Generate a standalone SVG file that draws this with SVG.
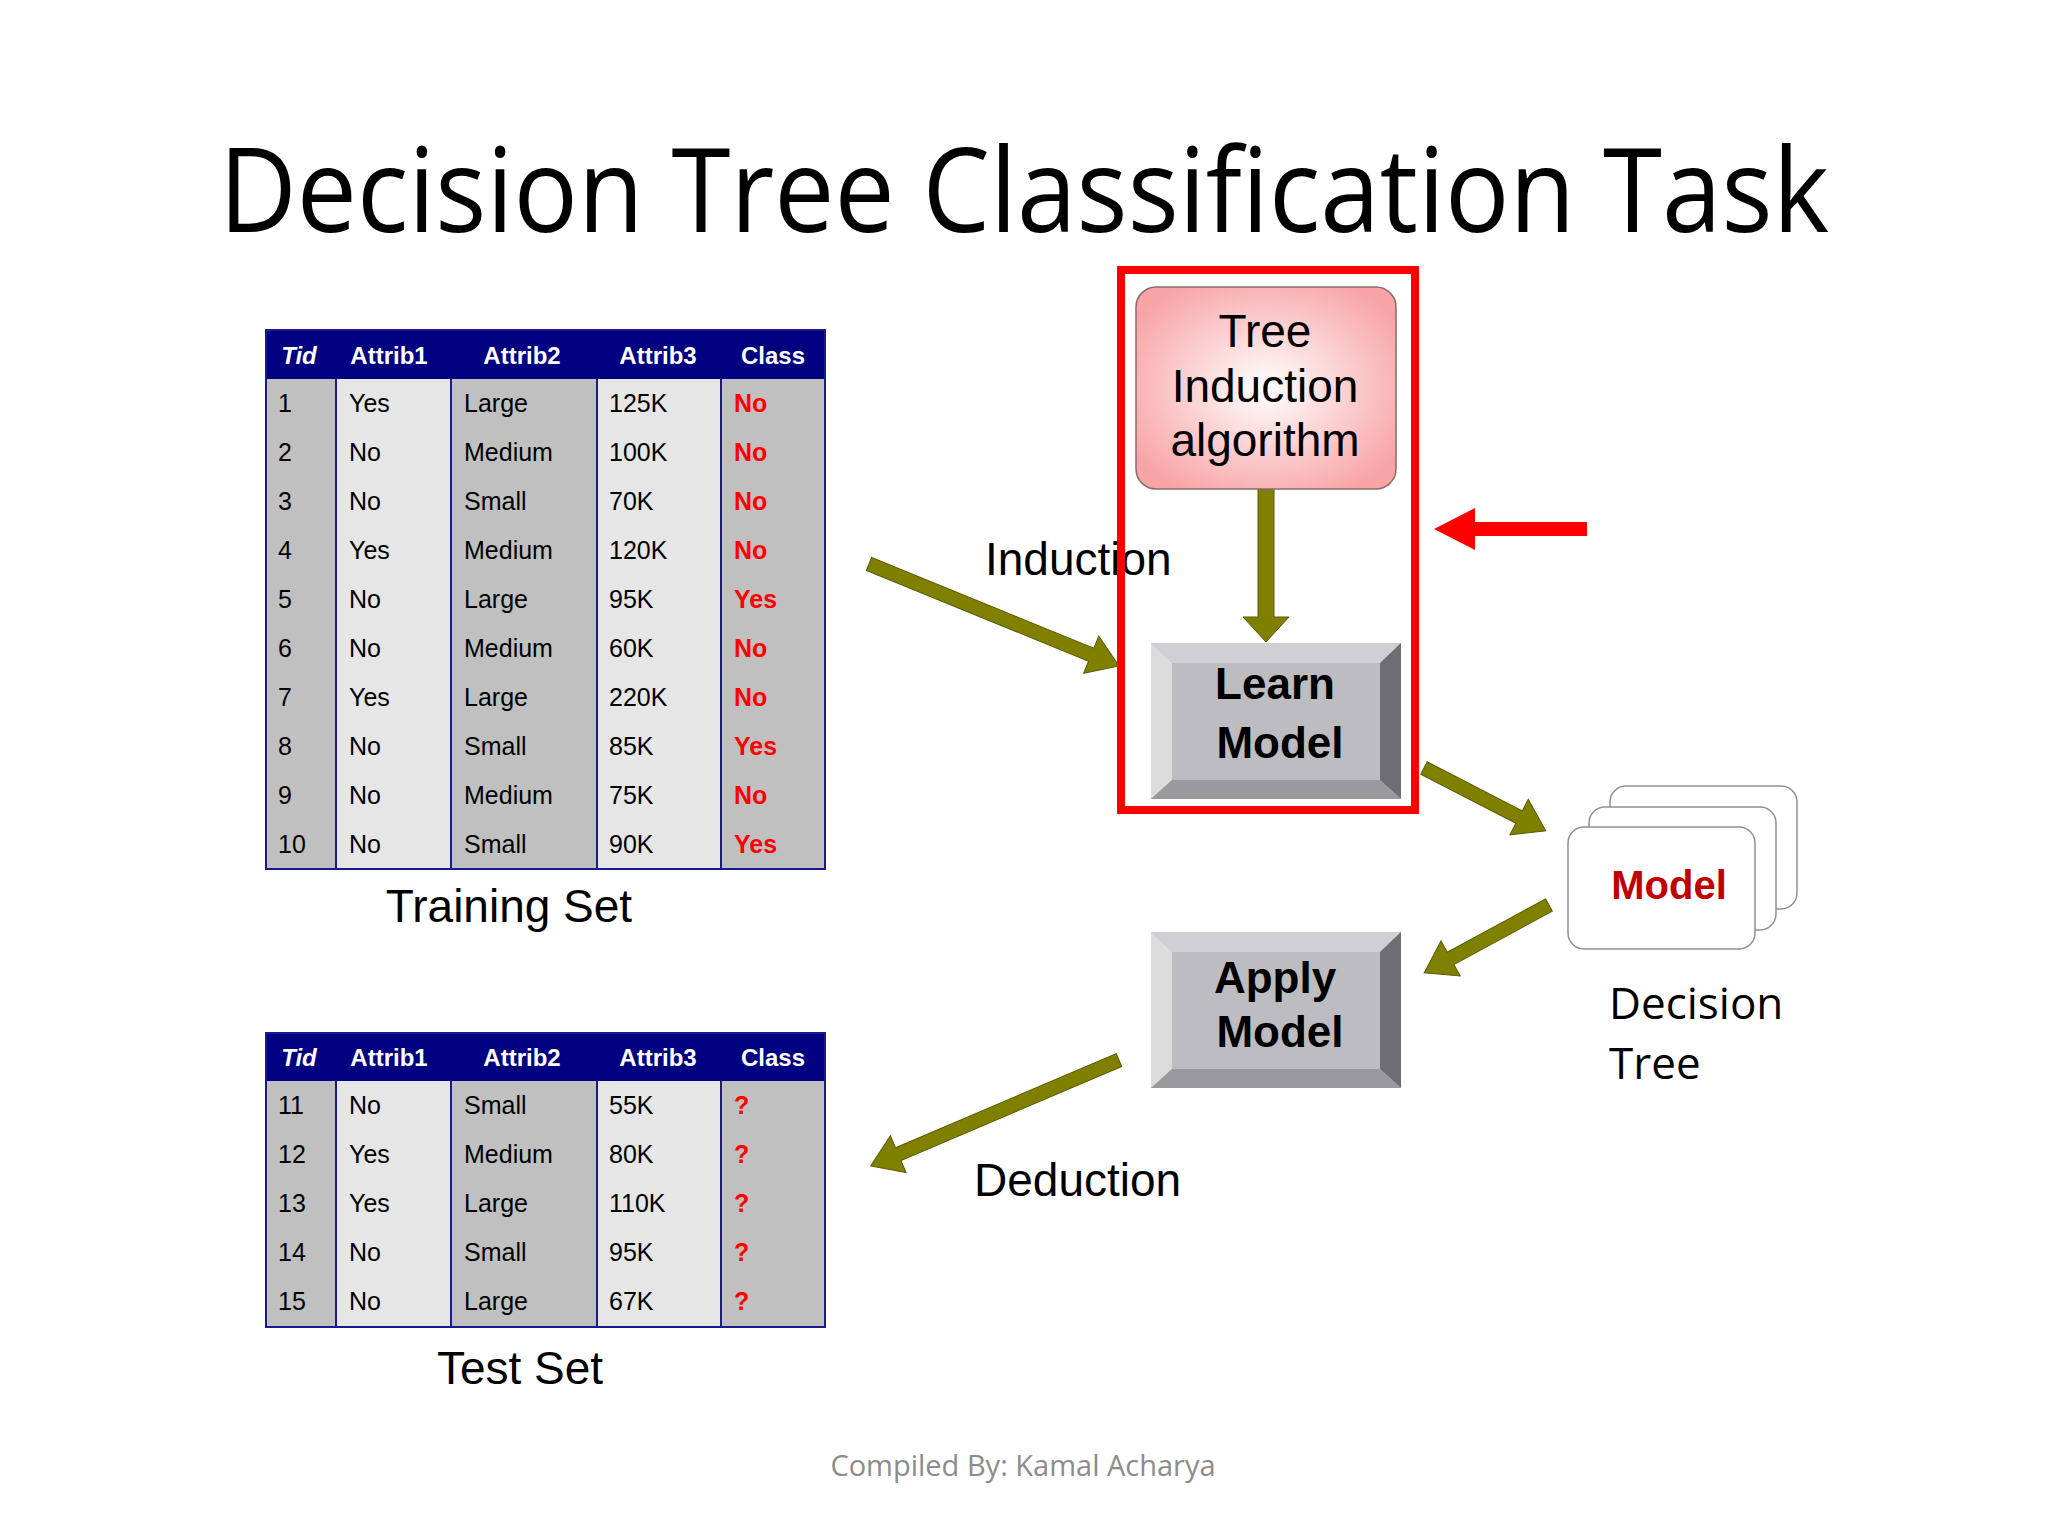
<svg xmlns="http://www.w3.org/2000/svg" width="2048" height="1536" viewBox="0 0 2048 1536">
<defs>
<radialGradient id="pink" cx="0.5" cy="0.5" r="0.6"><stop offset="0" stop-color="#ffffff"/><stop offset="1" stop-color="#f8a4a6"/></radialGradient>
<style>
.t{font-family:"Liberation Sans",Arial,sans-serif;font-size:25px;fill:#000}
.h{font-family:"Liberation Sans",Arial,sans-serif;font-size:24px;font-weight:bold;fill:#fff;text-anchor:middle}
.c{font-family:"Liberation Sans",Arial,sans-serif;font-size:25px;font-weight:bold;fill:#ff0000}
.g{fill:#c0c0c0}.l{fill:#e6e6e6}
.sep{stroke:#1a1a8c;stroke-width:2}
.arr{fill:#808000;stroke:#5a5a00;stroke-width:1}
.btn{font-family:"Liberation Sans",Arial,sans-serif;font-size:44px;font-weight:bold;fill:#000;text-anchor:middle}
.lab{font-family:"Liberation Sans",Arial,sans-serif;font-size:46px;fill:#000}
.cal{font-family:"Open Sans",sans-serif;fill:#000}
</style>
</defs>
<rect width="2048" height="1536" fill="#fff"/>
<text class="cal" x="219" y="232" font-size="118" textLength="1610" lengthAdjust="spacingAndGlyphs">Decision Tree Classification Task</text>

<g id="training-table">
<rect x="266" y="379" width="70" height="490" class="g"/>
<rect x="336" y="379" width="115" height="490" class="l"/>
<rect x="451" y="379" width="146" height="490" class="g"/>
<rect x="597" y="379" width="124" height="490" class="l"/>
<rect x="721" y="379" width="104" height="490" class="g"/>
<rect x="266" y="330" width="559" height="49" fill="#000080"/>
<line x1="336" y1="379" x2="336" y2="869" class="sep"/><line x1="451" y1="379" x2="451" y2="869" class="sep"/><line x1="597" y1="379" x2="597" y2="869" class="sep"/><line x1="721" y1="379" x2="721" y2="869" class="sep"/>
<rect x="266" y="330" width="559" height="539" fill="none" stroke="#1a1a8c" stroke-width="2"/>
<text class="h" x="299" y="364" font-style="italic">Tid</text><text class="h" x="389" y="364">Attrib1</text><text class="h" x="522" y="364">Attrib2</text><text class="h" x="658" y="364">Attrib3</text><text class="h" x="773" y="364">Class</text>
<g class="t">
<text x="278" y="412">1</text><text x="349" y="412">Yes</text><text x="464" y="412">Large</text><text x="609" y="412">125K</text>
<text x="278" y="461">2</text><text x="349" y="461">No</text><text x="464" y="461">Medium</text><text x="609" y="461">100K</text>
<text x="278" y="510">3</text><text x="349" y="510">No</text><text x="464" y="510">Small</text><text x="609" y="510">70K</text>
<text x="278" y="559">4</text><text x="349" y="559">Yes</text><text x="464" y="559">Medium</text><text x="609" y="559">120K</text>
<text x="278" y="608">5</text><text x="349" y="608">No</text><text x="464" y="608">Large</text><text x="609" y="608">95K</text>
<text x="278" y="657">6</text><text x="349" y="657">No</text><text x="464" y="657">Medium</text><text x="609" y="657">60K</text>
<text x="278" y="706">7</text><text x="349" y="706">Yes</text><text x="464" y="706">Large</text><text x="609" y="706">220K</text>
<text x="278" y="755">8</text><text x="349" y="755">No</text><text x="464" y="755">Small</text><text x="609" y="755">85K</text>
<text x="278" y="804">9</text><text x="349" y="804">No</text><text x="464" y="804">Medium</text><text x="609" y="804">75K</text>
<text x="278" y="853">10</text><text x="349" y="853">No</text><text x="464" y="853">Small</text><text x="609" y="853">90K</text>
</g>
<g class="c">
<text x="734" y="412">No</text><text x="734" y="461">No</text><text x="734" y="510">No</text><text x="734" y="559">No</text><text x="734" y="608">Yes</text><text x="734" y="657">No</text><text x="734" y="706">No</text><text x="734" y="755">Yes</text><text x="734" y="804">No</text><text x="734" y="853">Yes</text>
</g>
<text class="lab" x="509" y="922" text-anchor="middle">Training Set</text>
</g>

<g id="test-table">
<rect x="266" y="1081" width="70" height="246" class="g"/>
<rect x="336" y="1081" width="115" height="246" class="l"/>
<rect x="451" y="1081" width="146" height="246" class="g"/>
<rect x="597" y="1081" width="124" height="246" class="l"/>
<rect x="721" y="1081" width="104" height="246" class="g"/>
<rect x="266" y="1033" width="559" height="48" fill="#000080"/>
<line x1="336" y1="1081" x2="336" y2="1327" class="sep"/><line x1="451" y1="1081" x2="451" y2="1327" class="sep"/><line x1="597" y1="1081" x2="597" y2="1327" class="sep"/><line x1="721" y1="1081" x2="721" y2="1327" class="sep"/>
<rect x="266" y="1033" width="559" height="294" fill="none" stroke="#1a1a8c" stroke-width="2"/>
<text class="h" x="299" y="1066" font-style="italic">Tid</text><text class="h" x="389" y="1066">Attrib1</text><text class="h" x="522" y="1066">Attrib2</text><text class="h" x="658" y="1066">Attrib3</text><text class="h" x="773" y="1066">Class</text>
<g class="t">
<text x="278" y="1114">11</text><text x="349" y="1114">No</text><text x="464" y="1114">Small</text><text x="609" y="1114">55K</text>
<text x="278" y="1163">12</text><text x="349" y="1163">Yes</text><text x="464" y="1163">Medium</text><text x="609" y="1163">80K</text>
<text x="278" y="1212">13</text><text x="349" y="1212">Yes</text><text x="464" y="1212">Large</text><text x="609" y="1212">110K</text>
<text x="278" y="1261">14</text><text x="349" y="1261">No</text><text x="464" y="1261">Small</text><text x="609" y="1261">95K</text>
<text x="278" y="1310">15</text><text x="349" y="1310">No</text><text x="464" y="1310">Large</text><text x="609" y="1310">67K</text>
</g>
<g class="c">
<text x="734" y="1114">?</text><text x="734" y="1163">?</text><text x="734" y="1212">?</text><text x="734" y="1261">?</text><text x="734" y="1310">?</text>
</g>
<text class="lab" x="520" y="1384" text-anchor="middle">Test Set</text>
</g>

<g id="connectors">
<path class="arr" transform="translate(869,564) rotate(22.2)" d="M0,-7 H240 V-20 L270,0 L240,20 V7 H0 Z"/>
<path class="arr" transform="translate(1266,489) rotate(90)" d="M0,-8 H128 V-23 L153,0 L128,23 V8 H0 Z"/>
<path class="arr" transform="translate(1424,768) rotate(27.3)" d="M0,-7 H107 V-20 L137,0 L107,20 V7 H0 Z"/>
<path class="arr" transform="translate(1549,905) rotate(151.5)" d="M0,-7 H112 V-20 L142,0 L112,20 V7 H0 Z"/>
<path class="arr" transform="translate(1119,1060) rotate(156.9)" d="M0,-7 H240 V-20 L270,0 L240,20 V7 H0 Z"/>
<path d="M1587,522 H1475 V508 L1434,529 L1475,550 V536 H1587 Z" fill="#ff0000"/>
</g>
<text class="lab" x="985" y="575">Induction</text>
<text class="lab" x="974" y="1196">Deduction</text>

<g id="highlight"><rect x="1121" y="270" width="294" height="540" fill="none" stroke="#ff0000" stroke-width="8"/></g>

<g id="tree-induction">
<rect x="1136" y="287" width="260" height="202" rx="20" fill="url(#pink)" stroke="#8a6a6a" stroke-width="1.5"/>
<g class="lab" font-size="48" text-anchor="middle"><text x="1265" y="347">Tree</text><text x="1265" y="402">Induction</text><text x="1265" y="456">algorithm</text></g>
</g>

<g id="learn-model">
<rect x="1151" y="643" width="250" height="156" fill="#bdbdc1"/>
<polygon points="1151,643 1401,643 1380,663 1172,663" fill="#d0d0d4"/>
<polygon points="1151,643 1172,663 1172,780 1151,799" fill="#dcdcdc"/>
<polygon points="1401,643 1401,799 1380,780 1380,663" fill="#6e6e72"/>
<polygon points="1151,799 1172,780 1380,780 1401,799" fill="#9a9a9e"/>
<text class="btn" x="1275" y="699">Learn</text><text class="btn" x="1280" y="758">Model</text>
</g>

<g id="apply-model">
<rect x="1151" y="932" width="250" height="156" fill="#bdbdc1"/>
<polygon points="1151,932 1401,932 1380,952 1172,952" fill="#d0d0d4"/>
<polygon points="1151,932 1172,952 1172,1069 1151,1088" fill="#dcdcdc"/>
<polygon points="1401,932 1401,1088 1380,1069 1380,952" fill="#6e6e72"/>
<polygon points="1151,1088 1172,1069 1380,1069 1401,1088" fill="#9a9a9e"/>
<text class="btn" x="1275" y="993">Apply</text><text class="btn" x="1280" y="1047">Model</text>
</g>

<g id="model">
<rect x="1610" y="786" width="187" height="123" rx="16" fill="#fff" stroke="#909090" stroke-width="1.5"/>
<rect x="1589" y="807" width="187" height="123" rx="16" fill="#fff" stroke="#909090" stroke-width="1.5"/>
<rect x="1568" y="827" width="187" height="122" rx="16" fill="#fff" stroke="#909090" stroke-width="1.5"/>
<text x="1669" y="899" text-anchor="middle" font-family="Liberation Sans,Arial,sans-serif" font-size="40" font-weight="bold" fill="#c00000">Model</text>
<text class="cal" x="1609" y="1019" font-size="44">Decision</text>
<text class="cal" x="1609" y="1079" font-size="44">Tree</text>
</g>

<text x="1023" y="1476" text-anchor="middle" font-family="Open Sans,sans-serif" font-size="29" fill="#8c8c8c">Compiled By: Kamal Acharya</text>
</svg>
